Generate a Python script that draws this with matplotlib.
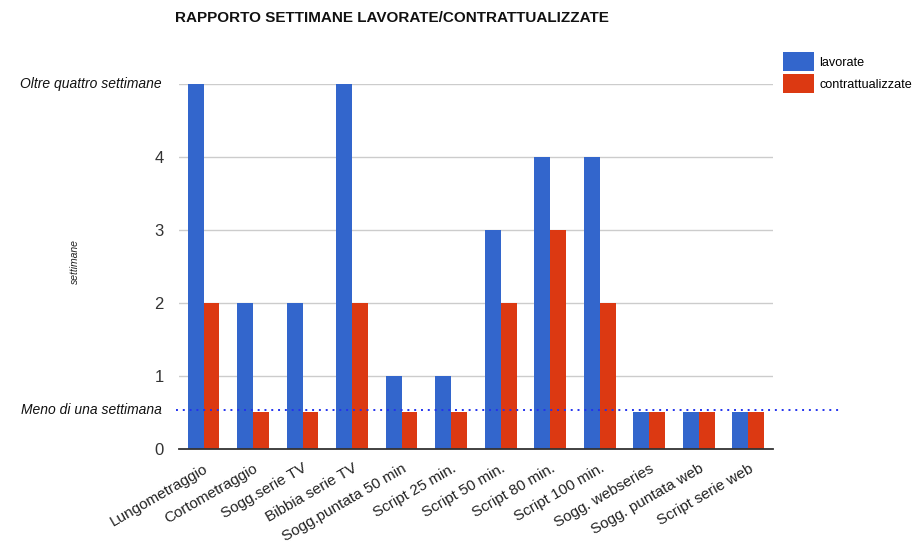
import matplotlib
matplotlib.use("Agg")
import matplotlib.pyplot as plt
import matplotlib.transforms as mtransforms
from matplotlib.patches import Patch
import numpy as np

plt.rcParams['font.family'] = ['Liberation Sans', 'DejaVu Sans']

categories = ["Lungometraggio", "Cortometraggio", "Sogg.serie TV", "Bibbia serie TV",
              "Sogg.puntata 50 min", "Script 25 min.", "Script 50 min.", "Script 80 min.",
              "Script 100 min.", "Sogg. webseries", "Sogg. puntata web", "Script serie web"]
lavorate = [5, 2, 2, 5, 1, 1, 3, 4, 4, 0.5, 0.5, 0.5]
contrattualizzate = [2, 0.5, 0.5, 2, 0.5, 0.5, 2, 3, 2, 0.5, 0.5, 0.5]
series_names = ["lavorate", "contrattualizzate"]
y_ticks = [0, 1, 2, 3, 4]
upper_label = "Oltre quattro settimane"
upper_value = 5
lower_label = "Meno di una settimana"
lower_value = 0.53

BLUE = "#3366CC"
RED = "#DC3912"

fig = plt.figure(figsize=(9.17, 5.44), dpi=100)
ax = fig.add_axes([0.195, 0.175, 0.648, 0.671])

x = np.arange(len(categories))
w = 0.32
ax.bar(x - w / 2, lavorate, width=w, color=BLUE, zorder=3)
ax.bar(x + w / 2, contrattualizzate, width=w, color=RED, zorder=3)

ax.set_xlim(-0.5, len(categories) - 0.5)
ax.set_ylim(0, 5)

# horizontal grid
for v in [1, 2, 3, 4, 5]:
    ax.axhline(v, color="#cccccc", lw=1, zorder=1)

for s in ["top", "right", "left"]:
    ax.spines[s].set_visible(False)
ax.spines["bottom"].set_color("#333333")
ax.spines["bottom"].set_linewidth(1.3)
ax.spines["bottom"].set_zorder(4)

ax.set_yticks(y_ticks)
ax.set_yticklabels([str(t) for t in y_ticks], fontsize=12, color="#333333")
ax.tick_params(axis="y", length=0, pad=11)

ax.set_xticks(x)
ax.set_xticklabels(categories, rotation=30, ha="right", rotation_mode="anchor",
                   fontsize=11, color="#222222")
ax.tick_params(axis="x", length=0, pad=9)

# descriptive labels on the value axis
trans = mtransforms.blended_transform_factory(fig.transFigure, ax.transData)
ax.text(0.176, upper_value, upper_label, transform=trans, ha="right", va="center",
        fontsize=10, style="italic", color="#111111")
ax.text(0.176, lower_value, lower_label, transform=trans, ha="right", va="center",
        fontsize=10, style="italic", color="#111111")

# dotted reference line for "less than a week"
ax.plot([0.192, 0.915], [lower_value, lower_value], transform=trans,
        color="#2233ee", lw=1.4, linestyle=(0, (1, 2.5)), clip_on=False, zorder=5)

fig.text(0.082, 0.52, "settimane", rotation=90, ha="center", va="center",
         fontsize=7.5, style="italic", color="#222222")

fig.text(0.191, 0.966, "RAPPORTO SETTIMANE LAVORATE/CONTRATTUALIZZATE",
         ha="left", va="center", fontsize=11, fontweight="bold", color="#111111")

handles = [Patch(facecolor=BLUE), Patch(facecolor=RED)]
fig.legend(handles, series_names, loc="upper left", bbox_to_anchor=(0.848, 0.914),
           frameon=False, fontsize=9.1, handlelength=2.45, handleheight=2.0,
           handletextpad=0.45, labelspacing=0.2, borderaxespad=0)

fig.savefig("out.png", dpi=100)
